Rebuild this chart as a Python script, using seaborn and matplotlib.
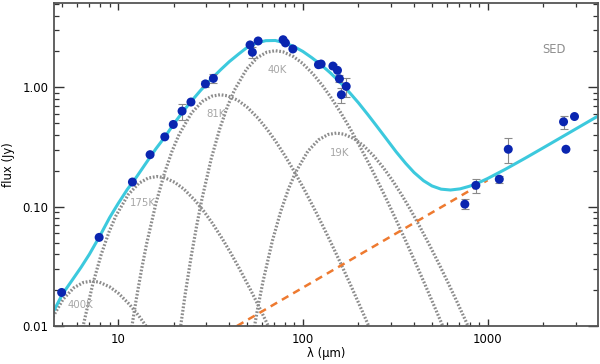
import numpy as np
import pandas as pd
import matplotlib
matplotlib.use("Agg")
import matplotlib.pyplot as plt
import seaborn as sns
from matplotlib.ticker import LogLocator, NullFormatter

obs_wl = [4.95, 7.9, 11.96, 14.9, 17.9, 19.9, 22.2, 24.8, 29.7, 32.8,
          51.8, 53.3, 57.3, 78.2, 80.5, 88.3, 121.5, 125.6, 145.5, 154.0,
          157.8, 171.7, 161.7, 753, 864, 1157, 1294, 2577, 2655, 2954]
obs_flux = [0.0191, 0.0553, 0.161, 0.273, 0.385, 0.489, 0.633, 0.754, 1.07, 1.19,
            2.27, 1.97, 2.45, 2.51, 2.36, 2.10, 1.55, 1.57, 1.51, 1.39,
            1.18, 1.02, 0.868, 0.105, 0.151, 0.170, 0.303, 0.515, 0.303, 0.570]
obs_err = [0, 0, 0, 0, 0, 0, 0.095, 0, 0.07, 0.10,
           0, 0.20, 0, 0, 0, 0, 0, 0, 0.05, 0,
           0.08, 0.19, 0.13, 0.010, 0.021, 0.012, 0.07, 0.063, 0, 0]

# ---- total model (cyan) ----
tot_wl = [4.5, 5, 5.6, 6.3, 7, 8, 9, 10, 11.2, 12.6, 14, 16, 18, 20, 22.5,
          25, 28, 32, 36, 40, 45, 50, 56, 63, 71, 80, 90, 100, 112, 126,
          141, 160, 180, 200, 225, 250, 280, 320, 360, 400, 450, 500, 560, 630, 710,
          800, 900, 1000, 1250, 1600, 2000, 2500, 3200, 4000]
tot_flux = [0.0135, 0.0185, 0.0238, 0.031, 0.040, 0.0575, 0.081, 0.106, 0.139, 0.178,
            0.226, 0.305, 0.388, 0.493, 0.630, 0.770, 0.9456, 1.179, 1.412, 1.644,
            1.908, 2.166, 2.354, 2.464, 2.473, 2.359, 2.19, 2.002, 1.771, 1.539,
            1.322, 1.094, 0.8962, 0.7425, 0.5906, 0.4779, 0.3792, 0.2883, 0.2312, 0.1935,
            0.1652, 0.1493, 0.1403, 0.1380, 0.1411, 0.1486, 0.1596, 0.1722, 0.2063, 0.2554,
            0.3115, 0.3805, 0.4751, 0.5808]

# ---- power-law component (orange dashed) ----
pl_wl = [44, 1000]
pl_flux = [0.0100, 0.1668]

# ---- dust components (grey dotted) ----
c400_wl = [3.6, 3.96, 4.32, 5.04, 5.76, 6.48, 7.2, 7.92, 9.0, 10.08, 11.52, 12.96, 14.4, 16.2]
c400_f = [0.00528, 0.00808, 0.0111, 0.01676, 0.0209, 0.02315, 0.0238, 0.0233, 0.0213,
          0.01871, 0.01518, 0.01214, 0.00965, 0.00727]
c175_wl = [6.08, 6.48, 7.29, 8.1, 8.91, 9.72, 11.34, 12.96, 14.58, 16.2, 17.82, 20.25,
           22.68, 25.92, 29.16, 32.4, 36.45, 40.5, 45.36, 51.84, 58.32, 64.8, 72.9]
c175_f = [0.0061, 0.01013, 0.02236, 0.03968, 0.06079, 0.0835, 0.126, 0.1572, 0.1741, 0.179,
          0.1752, 0.1602, 0.1407, 0.1142, 0.0913, 0.0726, 0.0546, 0.0415, 0.03025, 0.02042,
          0.01418, 0.01011, 0.00686]
c81_wl = [10.71, 11.60, 12.50, 13.39, 14.28, 16.07, 17.85, 19.64, 21.42, 24.99, 28.56,
          32.13, 35.7, 39.27, 44.63, 49.98, 57.12, 64.26, 71.4, 80.33, 89.25, 99.96,
          114.2, 128.5, 142.8, 160.7, 178.5, 203.5, 228.5, 257.0]
c81_f = [0.0033, 0.0079, 0.01623, 0.0296, 0.0491, 0.1084, 0.1924, 0.2948, 0.4049, 0.6111,
         0.7621, 0.8441, 0.868, 0.8498, 0.7769, 0.6822, 0.5538, 0.4427, 0.3519, 0.265,
         0.2013, 0.1467, 0.0990, 0.0687, 0.0490, 0.0332, 0.0233, 0.01477, 0.00982, 0.00642]
c40_wl = [21.3, 23.08, 24.85, 26.63, 28.4, 31.95, 35.5, 39.05, 42.6, 49.7, 56.8, 63.9, 71,
          78.1, 88.75, 99.4, 113.6, 127.8, 142, 159.75, 177.5, 198.8, 227.2, 255.6, 284,
          319.5, 355, 404.7, 454.4, 511.2, 568, 710]
c40_f = [0.00771, 0.01847, 0.0380, 0.0692, 0.1149, 0.2535, 0.45, 0.6894, 0.947, 1.429,
         1.782, 1.974, 2.03, 1.987, 1.817, 1.596, 1.295, 1.035, 0.823, 0.6198, 0.4708,
         0.3431, 0.2316, 0.1608, 0.1147, 0.0777, 0.0544, 0.03455, 0.02296, 0.01502,
         0.01025, 0.00449]
c19_wl = [49.4, 53.2, 57.0, 60.8, 68.4, 76, 83.6, 91.2, 106.4, 121.6, 136.8, 152, 167.2,
          190, 212.8, 243.2, 273.6, 304, 342, 380, 425.6, 486.4, 547.2, 608, 684, 760, 866.4]
c19_f = [0.00377, 0.00774, 0.01412, 0.02343, 0.0517, 0.0918, 0.1406, 0.1931, 0.2915,
         0.3635, 0.4026, 0.414, 0.4053, 0.3705, 0.3254, 0.2641, 0.2111, 0.1678, 0.1264,
         0.096, 0.07, 0.0472, 0.0328, 0.0234, 0.01586, 0.0111, 0.00705]

comp_labels = ["400K", "175K", "81K", "40K", "19K"]
label_wl = [5.36, 11.6, 30.2, 64.5, 140.5]
label_flux = [0.0149, 0.108, 0.60, 1.39, 0.281]

sns.set_theme(style="ticks")
plt.rcParams['font.family'] = ['DejaVu Sans']

fig = plt.figure(figsize=(6.0, 3.64), dpi=100)
ax = fig.add_axes([0.09, 0.1044, 0.9067, 0.8874])

grey = "#8c8c8c"
dot = (0, (0.55, 0.55))
for wl, fl in [(c400_wl, c400_f), (c175_wl, c175_f), (c81_wl, c81_f),
               (c40_wl, c40_f), (c19_wl, c19_f)]:
    sns.lineplot(x=wl, y=fl, ax=ax, color=grey, lw=2.3, linestyle=dot, sort=False)

sns.lineplot(x=pl_wl, y=pl_flux, ax=ax, color="#EE7A30", lw=1.8,
             linestyle=(0, (3, 2.2)), sort=False)
sns.lineplot(x=tot_wl, y=tot_flux, ax=ax, color="#3CC9DD", lw=2.2, sort=False)

df = pd.DataFrame({"wl": obs_wl, "flux": obs_flux, "err": obs_err})
de = df[df.err > 0]
ax.errorbar(de.wl, de.flux, yerr=de.err, fmt="none", ecolor="#8a8a8a",
            elinewidth=0.8, capsize=2.6, capthick=0.8, zorder=4)
sns.scatterplot(data=df, x="wl", y="flux", ax=ax, color="#0A25B0", s=42,
                edgecolor="none", linewidth=0, zorder=5)

for t, x, y in zip(comp_labels, label_wl, label_flux):
    ax.text(x, y, t, color="#a6a6a6", fontsize=7.3, va="center", ha="left")
ax.text(1975, 2.07, "SED", color="#8e8e8e", fontsize=8.3, va="center", ha="left")

ax.set_xscale("log")
ax.set_yscale("log")
ax.set_xlim(4.5, 3960)
ax.set_ylim(0.01, 5.1)

ax.set_xticks([10, 100, 1000], labels=["10", "100", "1000"])
ax.set_yticks([0.01, 0.1, 1.0], labels=["0.01", "0.10", "1.00"])
ax.xaxis.set_minor_locator(LogLocator(base=10, subs=np.arange(2, 10)))
ax.yaxis.set_minor_locator(LogLocator(base=10, subs=np.arange(2, 10)))
ax.xaxis.set_minor_formatter(NullFormatter())
ax.yaxis.set_minor_formatter(NullFormatter())

ax.tick_params(axis="x", which="major", direction="in", length=5, width=1,
               top=True, bottom=True, labelsize=8.4, pad=5, color="#333333",
               labelcolor="#000000")
ax.tick_params(axis="x", which="minor", direction="in", length=2.6, width=0.9,
               top=True, bottom=True, color="#333333")
ax.tick_params(axis="y", which="major", direction="in", length=7.5, width=1,
               left=True, right=True, labelsize=8.4, pad=4, color="#333333",
               labelcolor="#000000")
ax.tick_params(axis="y", which="minor", direction="in", length=3.8, width=0.9,
               left=True, right=True, color="#333333")
for s in ax.spines.values():
    s.set_color("#555555")
    s.set_linewidth(1.3)
    s.set_visible(True)

ax.set_xlabel("λ (μm)", fontsize=8.4, labelpad=1, color="#000000")
ax.set_ylabel("flux (Jy)", fontsize=8.4, labelpad=5, color="#000000")
ax.grid(False)

fig.savefig("out.png", dpi=100)
